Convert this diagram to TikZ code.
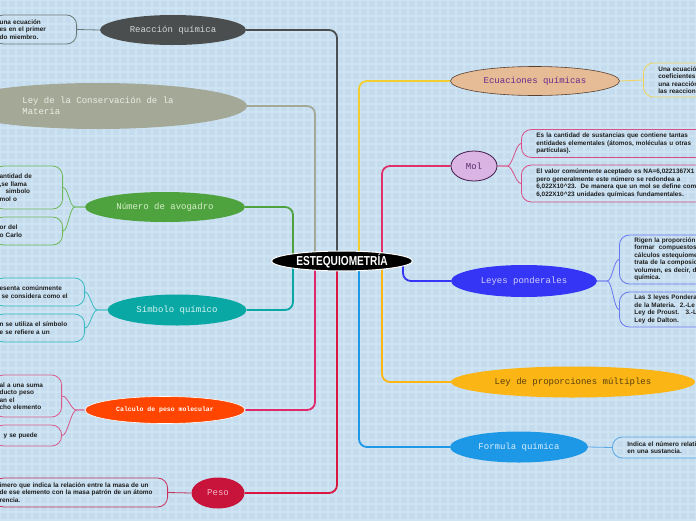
\documentclass[tikz,border=0pt]{standalone}
\usepackage{fontspec}
\setmainfont{Liberation Sans}
\newfontfamily\monof{Liberation Mono}
\newfontfamily\rootf[FakeStretch=0.78]{Liberation Sans}
\usetikzlibrary{shapes.geometric}
\definecolor{paper}{HTML}{C4DCED}
\definecolor{paperline}{HTML}{CFE4F3}
\definecolor{leaftext}{HTML}{1E1E1E}
\definecolor{cReac}{HTML}{4A4E4E}\definecolor{tReac}{HTML}{D6D6D6}\definecolor{lReac}{HTML}{6A7A7A}
\definecolor{cLey}{HTML}{A3A897}\definecolor{tLey}{HTML}{ECEEE4}
\definecolor{cAvog}{HTML}{4EA33F}\definecolor{tAvog}{HTML}{D8F0CC}\definecolor{lAvog}{HTML}{6CB85A}
\definecolor{cSimb}{HTML}{0AA8A4}\definecolor{tSimb}{HTML}{D4F4F2}\definecolor{lSimb}{HTML}{3BBCC4}
\definecolor{cCalc}{HTML}{FF4500}\definecolor{wCalc}{HTML}{E0286A}\definecolor{lCalc}{HTML}{D65A8C}
\definecolor{cPeso}{HTML}{C8133A}\definecolor{wPeso}{HTML}{D8163F}\definecolor{tPeso}{HTML}{F4B8C8}\definecolor{lPeso}{HTML}{C8305C}
\definecolor{cEcu}{HTML}{E6BC96}\definecolor{dEcu}{HTML}{5A4030}\definecolor{tEcu}{HTML}{6A2A8A}\definecolor{wEcu}{HTML}{F2CF30}\definecolor{lEcu}{HTML}{F2D45A}
\definecolor{cMol}{HTML}{DAB4E2}\definecolor{dMol}{HTML}{401848}\definecolor{tMol}{HTML}{5A2A6A}\definecolor{wMol}{HTML}{E0306A}\definecolor{lMol}{HTML}{D84E86}
\definecolor{cLeyes}{HTML}{3535F5}\definecolor{tLeyes}{HTML}{D0D0FF}\definecolor{lLeyes}{HTML}{6A78F0}
\definecolor{cProp}{HTML}{FBB514}\definecolor{tProp}{HTML}{5A4010}
\definecolor{cForm}{HTML}{1C98E6}\definecolor{tForm}{HTML}{D8ECFF}\definecolor{lForm}{HTML}{5AA8E6}
\pgfdeclarelayer{paperlayer}
\pgfdeclarelayer{wires}
\pgfsetlayers{paperlayer,wires,main}

\begin{document}
\begin{tikzpicture}[x=1pt,y=-1pt,
 topic/.style={ellipse,inner sep=0pt,align=left,font=\monof\fontsize{9}{11}\selectfont},
 leafL/.style={draw,rounded corners=10pt,line width=.8pt,anchor=east,align=left,inner xsep=6pt,inner ysep=0pt,text=leaftext,font=\bfseries\fontsize{6.4}{7.5}\selectfont},
 leafR/.style={draw,rounded corners=10pt,line width=.8pt,anchor=west,align=left,inner xsep=15pt,inner ysep=0pt,text width=240pt,text=leaftext,font=\bfseries\fontsize{6.4}{7.5}\selectfont},
 trunk/.style={line width=1.8pt,rounded corners=8pt},
 twig/.style={line width=.8pt}]
\useasboundingbox (0,0) rectangle (696,520);
\clip (0,0) rectangle (696,520);
\begin{pgfonlayer}{paperlayer}
\fill[paper] (0,0) rectangle (696,520);
\draw[paperline,line width=1.2pt,step=8pt] (0,0) grid (696,520);
\end{pgfonlayer}

\node[ellipse,fill=black,draw=white,line width=1pt,text=white,inner sep=0pt,minimum width=141pt,minimum height=19pt,font=\rootf\bfseries\fontsize{13}{13}\selectfont] (root) at (342,261) {ESTEQUIOMETRÍA};

\node[topic,fill=cReac,text=tReac,minimum width=146pt,minimum height=30pt] (reac) at (173,30) {Reacción química};
\node[topic,fill=cLey,text=tLey,minimum width=298pt,minimum height=46pt] (ley) at (98,106) {Ley de la Conservación de la\\Materia};
\node[topic,fill=cAvog,text=tAvog,minimum width=160pt,minimum height=30pt] (avog) at (165,207) {Número de avogadro};
\node[topic,fill=cSimb,text=tSimb,minimum width=139pt,minimum height=31pt] (simb) at (177,310) {Símbolo químico};
\node[topic,fill=cCalc,draw=white,line width=.6pt,text=white,font=\monof\bfseries\fontsize{6.5}{8}\selectfont,minimum width=160pt,minimum height=27pt] (calc) at (165,410) {Calculo de peso molecular};
\node[topic,fill=cPeso,text=tPeso,minimum width=53pt,minimum height=31pt] (peso) at (218,493) {Peso};
\node[topic,fill=cEcu,draw=dEcu,line width=.6pt,text=tEcu,minimum width=169pt,minimum height=29pt] (ecu) at (535,81) {Ecuaciones químicas};
\node[topic,fill=cMol,draw=dMol,line width=.8pt,text=tMol,minimum width=46pt,minimum height=30pt] (mol) at (474,166) {Mol};
\node[topic,fill=cLeyes,text=tLeyes,minimum width=146pt,minimum height=32pt] (leyes) at (524,281) {Leyes ponderales};
\node[topic,fill=cProp,text=tProp,minimum width=244pt,minimum height=31pt] (prop) at (573,382) {Ley de proporciones múltiples};
\node[topic,fill=cForm,text=tForm,minimum width=138pt,minimum height=31pt] (form) at (519,447) {Formula química};

\node[leafL,draw=lReac,text width=71pt,minimum height=29pt] (reac1) at (77,29.5) {una ecuación\\es en el primer\\do miembro.};
\node[leafL,draw=lAvog,text width=57pt,minimum height=43pt] (avog1) at (63,187.5) {antidad de\\,se llama\\\hspace*{6pt}simbolo\\mol o};
\node[leafL,draw=lAvog,text width=57pt,minimum height=28pt] (avog2) at (63,231) {or del\\o Carlo};
\node[leafL,draw=lSimb,text width=79pt,minimum height=28pt] (simb1) at (85,292) {esenta comúnmente\\\hspace*{2pt}se considera como el};
\node[leafL,draw=lSimb,text width=79pt,minimum height=28pt] (simb2) at (85,328) {n se utiliza el símbolo\\e se refiere a un};
\node[leafL,draw=lCalc,text width=56pt,minimum height=42pt] (calc1) at (62,396) {al a una suma\\ducto peso\\an el\\cho elemento};
\node[leafL,draw=lCalc,text width=56pt,minimum height=21pt] (calc2) at (62,435.5) {\hspace*{4pt}y se puede};
\node[leafL,draw=lPeso,text width=162pt,minimum height=29pt] (peso1) at (168,492.5) {imero que indica la relación entre la masa de un\\de ese elemento con la masa patrón de un átomo\\rencia.};

\node[leafR,draw=lEcu,minimum height=34pt] (ecu1) at (643,80) {Una ecuación\\coeficientes y\\una reacción\\las reacciones};
\node[leafR,draw=lMol,minimum height=28pt] (mol1) at (521,143.5) {Es la cantidad de sustancias que contiene tantas\\entidades elementales (átomos, moléculas u otras\\partículas).};
\node[leafR,draw=lMol,minimum height=37pt] (mol2) at (521,183.5) {El valor comúnmente aceptado es NA=6,0221367X1\\pero generalmente este número se redondea a\\6,022X10\textasciicircum23.\ \ De manera que un mol se define como\\6,022X10\textasciicircum23 unidades químicas fundamentales.};
\node[leafR,draw=lLeyes,minimum height=49pt] (leyes1) at (619,259.5) {Rigen la proporción\\formar\ \ compuestos\\cálculos estequiome\\trata de la composic\\volumen, es decir, d\\química.};
\node[leafR,draw=lLeyes,minimum height=35pt] (leyes2) at (619,309.5) {Las 3 leyes Pondera\\de la Materia.\ \ 2.-Le\\Ley de Proust.\ \ \ 3.-L\\Ley de Dalton.};
\node[leafR,draw=lForm,minimum height=21pt] (form1) at (612,447.5) {Indica el número relativ\\en una sustancia.};

\begin{pgfonlayer}{wires}
\draw[trunk,cReac] (reac.east) -| ([xshift=-5pt]root.center);
\draw[trunk,cLey] (ley.east) -| ([xshift=-27pt]root.center);
\draw[trunk,cAvog] (avog.east) -| ([xshift=-49pt]root.center);
\draw[trunk,wEcu] (ecu.west) -| ([xshift=17pt]root.center);
\draw[trunk,wMol] (mol.west) -| ([xshift=40pt]root.center);
\draw[trunk,wPeso] (peso.east) -| ([xshift=-5pt]root.center);
\draw[trunk,wCalc] (calc.east) -| ([xshift=-27pt]root.center);
\draw[trunk,cSimb] (simb.east) -| ([xshift=-49pt]root.center);
\draw[trunk,cForm] (form.west) -| ([xshift=17pt]root.center);
\draw[trunk,cProp] (prop.west) -| ([xshift=40pt]root.center);
\draw[trunk,cLeyes] (leyes.west) -| ([xshift=61pt]root.center);

\draw[twig,lReac] (reac.west) -- (reac1.east);
\draw[twig,lAvog] (avog.west) -- ++(-10,0) .. controls +(-5,0) and +(5,0) .. (avog1.east);
\draw[twig,lAvog] (avog.west) -- ++(-10,0) .. controls +(-5,0) and +(5,0) .. (avog2.east);
\draw[twig,lSimb] (simb.west) -- ++(-10,0) .. controls +(-5,0) and +(5,0) .. (simb1.east);
\draw[twig,lSimb] (simb.west) -- ++(-10,0) .. controls +(-5,0) and +(5,0) .. (simb2.east);
\draw[twig,lCalc] (calc.west) -- ++(-8,0) .. controls +(-6,0) and +(6,0) .. (calc1.east);
\draw[twig,lCalc] (calc.west) -- ++(-8,0) .. controls +(-6,0) and +(6,0) .. (calc2.east);
\draw[twig,lPeso] (peso.west) -- (peso1.east);
\draw[twig,lEcu] (ecu.east) -- (ecu1.west);
\draw[twig,lMol] (mol.east) -- ++(10,0) .. controls +(5,0) and +(-5,0) .. (mol1.west);
\draw[twig,lMol] (mol.east) -- ++(10,0) .. controls +(5,0) and +(-5,0) .. (mol2.west);
\draw[twig,lLeyes] (leyes.east) -- ++(10,0) .. controls +(5,0) and +(-5,0) .. (leyes1.west);
\draw[twig,lLeyes] (leyes.east) -- ++(10,0) .. controls +(5,0) and +(-5,0) .. (leyes2.west);
\draw[twig,lForm] (form.east) -- (form1.west);
\end{pgfonlayer}
\end{tikzpicture}
\end{document}
